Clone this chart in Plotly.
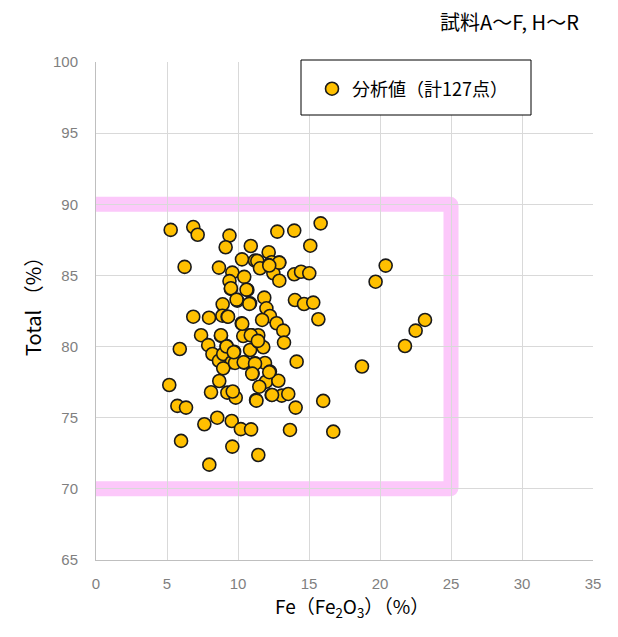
import plotly.graph_objects as go

fe2o3 = [5.26, 6.85, 7.16, 9.40, 9.13, 10.90, 6.24, 8.66, 10.28, 11.20,
         9.60, 10.44, 9.40, 9.50, 10.66, 9.95, 8.92, 10.85, 6.85, 7.96,
         8.90, 9.27, 10.26, 7.40, 8.80, 10.85, 7.90, 5.90, 9.20, 8.20,
         8.66, 8.96, 9.73, 9.56, 10.44, 11.20, 8.96, 10.85, 10.37, 11.03,
         8.68, 5.16, 8.10, 9.25, 9.84, 9.63, 11.27, 5.73, 6.34, 7.63,
         8.54, 9.56, 10.20, 10.92, 5.99, 9.60, 7.98, 11.43, 15.82, 12.77,
         13.96, 15.09, 11.36, 12.16, 12.37, 12.91, 12.16, 11.55, 12.49, 12.91,
         13.96, 14.44, 15.02, 11.85, 12.00, 12.25, 14.01, 14.65, 15.30, 15.66,
         11.70, 12.72, 13.19, 10.96, 11.43, 13.24, 14.13, 11.43, 11.78, 9.79,
         11.90, 12.25, 11.97, 12.84, 11.50, 12.37, 13.08, 13.54, 14.06, 16.00,
         13.66, 16.71, 20.40, 19.69, 23.17, 22.51, 21.76, 18.73, 9.50, 10.60,
         9.90, 10.80, 9.30, 10.30, 8.80, 10.90, 9.20, 9.70, 10.40, 11.20,
         11.00, 12.20, 12.40, 11.30, 12.90, 12.20, 11.40]
total = [88.20, 88.40, 87.86, 87.80, 86.98, 87.07, 85.60, 85.55, 86.13, 86.04,
         85.20, 84.90, 84.60, 84.05, 83.98, 83.23, 82.97, 83.04, 82.10, 82.03,
         82.17, 82.10, 81.64, 80.80, 80.75, 80.80, 80.10, 79.83, 80.04, 79.48,
         79.00, 79.48, 79.64, 78.90, 78.87, 78.83, 78.47, 79.76, 80.74, 78.10,
         77.58, 77.30, 76.79, 76.76, 76.41, 76.84, 76.25, 75.83, 75.71, 74.54,
         75.00, 74.77, 74.20, 74.18, 73.37, 72.97, 71.70, 72.38, 88.66, 88.08,
         88.15, 87.09, 86.02, 86.63, 85.93, 85.90, 85.73, 85.50, 85.15, 84.63,
         85.08, 85.26, 85.15, 83.44, 82.69, 82.15, 83.27, 82.99, 83.09, 81.92,
         81.87, 81.64, 81.12, 80.80, 80.80, 80.28, 78.94, 80.35, 79.95, 78.85,
         78.85, 78.24, 77.53, 77.60, 77.18, 76.60, 76.55, 76.67, 75.71, 76.18,
         74.14, 74.02, 85.69, 84.56, 81.87, 81.12, 80.04, 78.60, 84.10, 84.00,
         83.30, 83.00, 82.10, 81.60, 80.80, 80.80, 80.00, 79.60, 78.90, 78.80,
         78.10, 78.20, 76.60, 76.20, 85.90, 85.70, 80.40]

x_ticks = [0, 5, 10, 15, 20, 25, 30, 35]
y_ticks = [65, 70, 75, 80, 85, 90, 95, 100]

range_x = [0, 25]
range_y = [70, 90]

W, H = 618, 637
OFF = 8  # page body margin
L, R, T, B = 88, 33, 54, 85
pw, ph = W - L - R, H - T - B


def px(xs):
    return (xs - OFF - L) / pw


def py(ys):
    return (H - B - (ys - OFF)) / ph


fig = go.Figure()
fig.add_trace(go.Scatter(
    x=fe2o3, y=total, mode="markers", name="分析値（計127点）",
    marker=dict(size=13, color="#FFC000", line=dict(color="#1a1a1a", width=1.6)),
))

# pink range frame
x0, x1 = range_x
y0, y1 = range_y
r = 0.08
path = (f"M {x0},{y1} L {x1 - r},{y1} Q {x1},{y1} {x1},{y1 - r} "
        f"L {x1},{y0 + r} Q {x1},{y0} {x1 - r},{y0} L {x0},{y0}")
fig.add_shape(type="path", path=path, xref="x", yref="y",
              line=dict(color="#FCC8FA", width=15), layer="below")

# legend box
fig.add_shape(type="rect", xref="paper", yref="paper",
              x0=px(301), x1=px(531), y0=py(115), y1=py(60),
              line=dict(color="black", width=1), fillcolor="white", layer="above")

fig.add_annotation(text="試料A～F, H～R", xref="paper", yref="paper",
                   x=px(581), y=py(22), xanchor="right", yanchor="middle",
                   showarrow=False, font=dict(size=20, color="black",
                                              family="Noto Sans CJK JP"))
fig.add_annotation(text="Fe（Fe<sub>2</sub>O<sub>3</sub>）（%）", xref="paper", yref="paper",
                   x=px(352), y=py(607), xanchor="center", yanchor="middle",
                   showarrow=False, font=dict(size=19, color="black",
                                              family="Noto Sans CJK JP"))
fig.add_annotation(text="Total （%）", xref="paper", yref="paper",
                   x=px(32), y=py(302), xanchor="center", yanchor="middle", textangle=-90,
                   showarrow=False, font=dict(size=20, color="black",
                                              family="Noto Sans CJK JP"))

fig.update_layout(
    width=W, height=H,
    margin=dict(l=L, r=R, t=T, b=B),
    plot_bgcolor="white", paper_bgcolor="white",
    showlegend=True,
    legend=dict(x=px(312), y=py(89), xanchor="left", yanchor="middle",
                bgcolor="rgba(0,0,0,0)", borderwidth=0,
                font=dict(size=18, color="black", family="Noto Sans CJK JP")),
    font=dict(family="Noto Sans CJK JP"),
)
fig.update_xaxes(range=[0, 35], tickvals=x_ticks, showgrid=True, gridcolor="#d9d9d9",
                 gridwidth=1, zeroline=False, showline=True, linecolor="#bfbfbf",
                 automargin=False, ticks="", ticklabelstandoff=10,
                 tickfont=dict(size=15, color="#7f7f7f", family="Liberation Sans"))
fig.update_yaxes(range=[65, 100], tickvals=y_ticks, showgrid=True, gridcolor="#d9d9d9",
                 gridwidth=1, zeroline=False, showline=True, linecolor="#bfbfbf",
                 automargin=False, ticks="", ticklabelstandoff=14,
                 tickfont=dict(size=15, color="#7f7f7f", family="Liberation Sans"))

fig.write_html("out.html")
